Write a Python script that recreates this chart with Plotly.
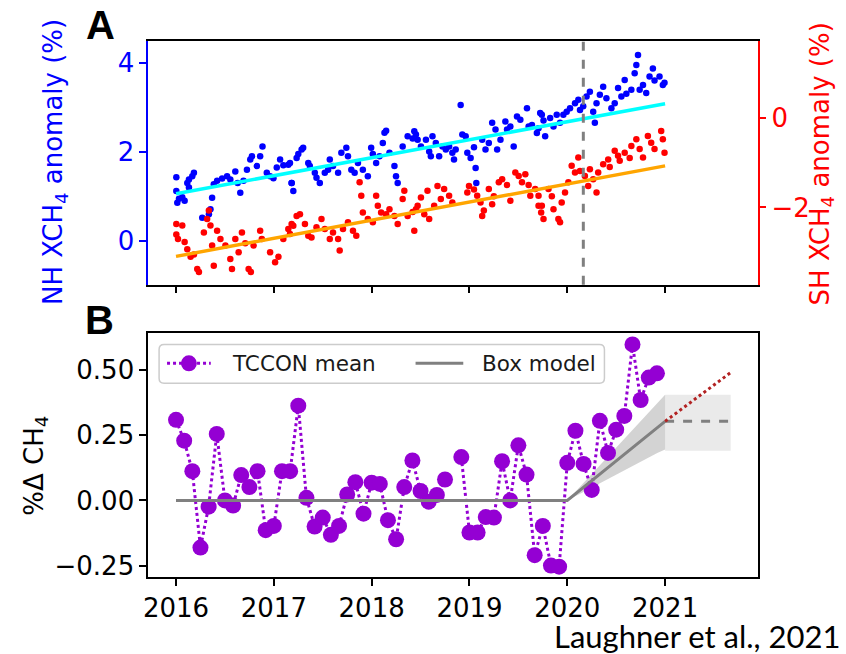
import plotly.graph_objects as go

# ---------------- Panel A data (decimal year, anomaly %) ----------------
nh_time = [2016.003, 2016.003, 2016.013, 2016.03, 2016.064, 2016.088, 2016.115, 2016.132, 2016.132,
           2016.166, 2016.183, 2016.268, 2016.336, 2016.352, 2016.369, 2016.386, 2016.42, 2016.471,
           2016.522, 2016.555, 2016.606, 2016.63, 2016.657, 2016.69, 2016.725, 2016.759, 2016.776,
           2016.826, 2016.86, 2016.884, 2016.928, 2016.962, 2016.996, 2017.03, 2017.064, 2017.097,
           2017.148, 2017.182,
           2017.165, 2017.182, 2017.199, 2017.233, 2017.25, 2017.284, 2017.3, 2017.352, 2017.368,
           2017.419, 2017.436, 2017.47, 2017.521, 2017.555, 2017.572, 2017.605, 2017.657, 2017.69,
           2017.741, 2017.758, 2017.792, 2017.826, 2017.86, 2017.91, 2017.961, 2017.995, 2018.012,
           2018.046, 2018.08, 2018.114, 2018.131, 2018.148, 2018.182, 2018.233, 2018.249, 2018.266,
           2018.317, 2018.368, 2018.419, 2018.453,
           2018.436, 2018.47, 2018.504, 2018.555, 2018.588, 2018.605, 2018.622, 2018.656, 2018.69,
           2018.724, 2018.758, 2018.792, 2018.825, 2018.842, 2018.859, 2018.91, 2018.927, 2018.961,
           2018.978, 2019.012, 2019.046, 2019.063, 2019.07, 2019.13, 2019.164, 2019.198, 2019.232,
           2019.266, 2019.283, 2019.317, 2019.367, 2019.384, 2019.418, 2019.452, 2019.486, 2019.52,
           2019.588, 2019.605, 2019.639, 2019.689, 2019.723,
           2019.706, 2019.74, 2019.757, 2019.774, 2019.825, 2019.859, 2019.892, 2019.926, 2019.96,
           2019.994, 2020.028, 2020.079, 2020.113, 2020.13, 2020.163, 2020.197, 2020.231, 2020.265,
           2020.282, 2020.299, 2020.333, 2020.367, 2020.4, 2020.451, 2020.485, 2020.519, 2020.553,
           2020.587, 2020.604, 2020.655, 2020.689, 2020.706, 2020.723, 2020.74, 2020.774, 2020.807,
           2020.841, 2020.875, 2020.892, 2020.943, 2020.977, 2020.994]
nh_anom = [1.43, 1.12, 0.86, 0.95, 0.98, 0.90, 1.30, 1.38, 1.20,
           1.45, 1.53, 0.52, 0.60, 0.71, 0.97, 1.27, 1.35, 1.40,
           1.45, 1.38, 1.56, 1.30, 1.08, 1.35, 1.60, 1.83, 1.90,
           1.68, 1.90, 2.12, 1.53, 1.45, 1.41, 1.65, 1.83, 1.70,
           1.71, 1.30,
           1.75, 1.30, 1.12, 1.86, 1.95, 2.05, 2.09, 1.75, 1.68,
           1.53, 1.42, 1.30, 1.53, 1.60, 1.83, 1.68, 1.53, 1.98,
           2.09, 1.90, 1.60, 1.53, 1.75, 1.60, 1.45, 2.09, 1.95,
           1.75, 1.90, 2.20, 2.43, 2.47, 1.98, 1.68, 1.45, 1.30,
           2.12, 2.35, 2.30, 2.39,
           2.46, 2.27, 2.12, 2.27, 2.01, 1.90, 2.35, 2.20, 1.90,
           2.12, 2.05, 2.12, 1.98, 1.83, 2.05, 3.05, 2.39, 2.35,
           1.98, 1.86, 2.10, 1.64, 1.30, 2.27, 2.05, 2.20, 2.65,
           2.50, 2.05, 2.27, 2.68, 2.50, 2.57, 2.12, 2.79, 2.72,
           2.98, 2.57, 2.60, 2.42, 2.87,
           2.53, 2.83, 2.70, 2.35, 2.76, 2.57, 2.83, 2.65, 2.83,
           2.90, 2.98, 3.09, 3.17, 2.94, 3.02, 3.24, 3.35, 2.90,
           2.65, 3.09, 3.28, 3.46, 3.20, 2.98, 3.09, 3.43, 3.24,
           3.61, 3.30, 3.39, 3.76, 3.95, 4.17, 3.39, 3.50, 3.32,
           3.69, 3.87, 3.60, 3.69, 3.50, 3.55]

sh_time = [2016.003, 2016.003, 2016.02, 2016.064, 2016.088, 2016.115, 2016.149, 2016.183, 2016.217,
           2016.234, 2016.285, 2016.318, 2016.336, 2016.352, 2016.369, 2016.386, 2016.42, 2016.454,
           2016.505, 2016.555, 2016.572, 2016.606, 2016.64, 2016.674, 2016.708, 2016.742, 2016.765,
           2016.793, 2016.86, 2016.877, 2016.962, 2017.013, 2017.047, 2017.097, 2017.148, 2017.182,
           2017.165, 2017.199, 2017.233, 2017.267, 2017.318, 2017.352, 2017.385, 2017.436, 2017.487,
           2017.521, 2017.572, 2017.605, 2017.657, 2017.673, 2017.707, 2017.758, 2017.809, 2017.843,
           2017.877, 2017.894, 2017.91, 2017.961, 2018.012, 2018.046, 2018.063, 2018.097, 2018.148,
           2018.182, 2018.233, 2018.266, 2018.317, 2018.334, 2018.368, 2018.419, 2018.453,
           2018.436, 2018.47, 2018.504, 2018.538, 2018.571, 2018.588, 2018.639, 2018.673, 2018.707,
           2018.741, 2018.792, 2018.825, 2018.978, 2018.995, 2019.046, 2019.079, 2019.113, 2019.13,
           2019.147, 2019.198, 2019.232, 2019.249, 2019.3, 2019.334, 2019.384, 2019.418, 2019.469,
           2019.503, 2019.537, 2019.571, 2019.605, 2019.622, 2019.672, 2019.706, 2019.733,
           2019.706, 2019.74, 2019.757, 2019.808, 2019.842, 2019.859, 2019.909, 2019.926, 2019.943,
           2019.977, 2020.011, 2020.045, 2020.079, 2020.113, 2020.13, 2020.18, 2020.214, 2020.231,
           2020.265, 2020.299, 2020.316, 2020.367, 2020.418, 2020.434, 2020.485, 2020.519, 2020.536,
           2020.587, 2020.638, 2020.655, 2020.706, 2020.74, 2020.774, 2020.824, 2020.858, 2020.892,
           2020.96, 2020.977, 2020.994]
sh_anom = [-2.37, -2.60, -2.70, -2.40, -2.77, -2.93, -3.10, -3.05, -3.37,
           -3.44, -2.56, -2.26, -2.07, -2.40, -2.85, -3.30, -2.52, -2.70,
           -2.85, -3.15, -3.37, -2.70, -3.00, -2.56, -2.80, -3.37, -3.44,
           -2.85, -2.52, -2.70, -3.00, -3.22, -3.10, -2.70, -2.48, -2.37,
           -2.59, -2.41, -2.19, -2.15, -2.37, -2.63, -2.67, -2.44, -2.26,
           -2.48, -2.70, -2.56, -2.70, -2.96, -2.48, -2.33, -2.52, -2.63,
           -1.44, -1.74, -2.11, -2.26, -2.33, -1.74, -1.96, -2.11, -2.15,
           -2.04, -2.19, -2.37, -1.81, -1.63, -2.19, -2.10, -2.04,
           -2.52, -1.96, -1.78, -2.15, -1.63, -2.26, -1.96, -1.52, -1.81,
           -1.59, -1.74, -1.89, -1.67, -1.52, -1.60, -1.74, -1.89, -2.19,
           -2.07, -1.59, -1.93, -1.75, -1.44, -1.37, -1.50, -1.85, -1.22,
           -1.30, -1.44, -1.26, -1.50, -1.74, -1.59, -1.96, -2.11,
           -1.74, -1.96, -2.26, -1.59, -1.75, -2.04, -2.26, -2.33, -1.89,
           -1.67, -1.44, -1.07, -1.22, -0.89, -1.19, -1.30, -1.52, -1.15,
           -1.37, -1.67, -1.22, -1.04, -0.93, -1.10, -0.74, -0.85, -0.96,
           -0.78, -0.90, -0.63, -0.48, -0.70, -0.89, -0.41, -0.56, -0.70,
           -0.30, -0.48, -0.78]

nh_trend_time = [2016.0, 2021.0]
nh_trend = [1.06, 3.08]
sh_trend_time = [2016.0, 2021.0]
sh_trend = [-3.09, -1.075]
covid_start = 2020.164

# ---------------- Panel B data ----------------
tccon_month = list(range(60))  # months since Jan 2016
tccon_mean = [0.309, 0.229, 0.112, -0.181, -0.024, 0.255, 0.000, -0.020, 0.097, 0.051, 0.112, -0.114,
              -0.098, 0.112, 0.112, 0.363, 0.010, -0.100, -0.066, -0.132, -0.098, 0.023, 0.070, -0.051,
              0.068, 0.063, -0.076, -0.149, 0.051, 0.153, 0.036, -0.005, 0.021, 0.080, None, 0.166,
              -0.123, -0.123, -0.064, -0.066, 0.150, 0.000, 0.211, 0.099, -0.210, -0.098, -0.250, -0.254,
              0.144, 0.267, 0.140, 0.040, 0.305, 0.182, 0.271, 0.324, 0.598, 0.385, 0.471, 0.487]

box_time = [2016.0, 2020.0, 2021.0]
box_model = [0.0, 0.0, 0.303]
box_unc_time = [2020.0, 2021.0, 2021.0, 2020.92, 2020.0]
box_unc = [0.0, 0.405, 0.195, 0.182, 0.0]
proj_time = [2021.0, 2021.67]
proj_flat = [0.303, 0.303]
proj_growth = [0.303, 0.49]
proj_band_lo = [0.19, 0.19]
proj_band_hi = [0.405, 0.405]

legend_labels = ["TCCON mean", "Box model"]

# ---------------- Layout geometry (pixels -> paper) ----------------
W, H = 846, 654
def px(x):
    return x / W
def py(y):
    return 1 - y / H

FONT = "DejaVu Sans"
TICK = 26
PURPLE = "#9400d3"
GRAY = "#808080"

fig = go.Figure()

# Panel A
fig.add_trace(go.Scatter(x=nh_time, y=nh_anom, mode="markers",
                         marker=dict(color="#0000ff", size=6.5), xaxis="x", yaxis="y",
                         showlegend=False))
fig.add_trace(go.Scatter(x=nh_trend_time, y=nh_trend, mode="lines",
                         line=dict(color="#00ffff", width=3.5), xaxis="x", yaxis="y",
                         showlegend=False))
fig.add_trace(go.Scatter(x=sh_time, y=sh_anom, mode="markers",
                         marker=dict(color="#ff0000", size=6.5), xaxis="x", yaxis="y2",
                         showlegend=False))
fig.add_trace(go.Scatter(x=sh_trend_time, y=sh_trend, mode="lines",
                         line=dict(color="#ffa500", width=3.5), xaxis="x", yaxis="y2",
                         showlegend=False))

# Panel B
fig.add_trace(go.Scatter(x=box_unc_time, y=box_unc, fill="toself", mode="lines",
                         line=dict(width=0), fillcolor="rgba(128,128,128,0.35)",
                         xaxis="x2", yaxis="y3", showlegend=False, hoverinfo="skip"))
fig.add_trace(go.Scatter(x=[proj_time[0], proj_time[1], proj_time[1], proj_time[0], proj_time[0]],
                         y=[proj_band_lo[0], proj_band_lo[1], proj_band_hi[1], proj_band_hi[0], proj_band_lo[0]],
                         fill="toself", mode="lines", line=dict(width=0),
                         fillcolor="rgba(128,128,128,0.17)",
                         xaxis="x2", yaxis="y3", showlegend=False, hoverinfo="skip"))
fig.add_trace(go.Scatter(x=[2016 + m / 12 for m in tccon_month], y=tccon_mean,
                         mode="lines+markers", name=legend_labels[0],
                         line=dict(color=PURPLE, width=3, dash="dot"),
                         marker=dict(color=PURPLE, size=16),
                         connectgaps=False, xaxis="x2", yaxis="y3", showlegend=False))
fig.add_trace(go.Scatter(x=box_time, y=box_model, mode="lines", name=legend_labels[1],
                         line=dict(color=GRAY, width=3), xaxis="x2", yaxis="y3", showlegend=False))
fig.add_trace(go.Scatter(x=proj_time, y=proj_flat, mode="lines",
                         line=dict(color=GRAY, width=3, dash="dash"),
                         xaxis="x2", yaxis="y3", showlegend=False))
fig.add_trace(go.Scatter(x=proj_time, y=proj_growth, mode="lines",
                         line=dict(color="#b22222", width=3, dash="dot"),
                         xaxis="x2", yaxis="y3", showlegend=False))

XR = [2015.715, 2021.945]
common_x = dict(range=XR, tickvals=[2016, 2017, 2018, 2019, 2020, 2021],
                ticks="outside", ticklen=7, tickwidth=1.5, tickcolor="black",
                showline=True, linecolor="black", linewidth=1.5, mirror=True,
                showgrid=False, zeroline=False)

# ---- matplotlib-style legend box drawn with shapes (rounded rectangle) ----
def rounded_rect(x0, y0, x1, y1, r):
    X0, X1 = px(x0), px(x1)
    Y0, Y1 = py(y0), py(y1)
    rx, ry = r / W, r / H
    return (f"M {X0+rx},{Y0} L {X1-rx},{Y0} Q {X1},{Y0} {X1},{Y0-ry} "
            f"L {X1},{Y1+ry} Q {X1},{Y1} {X1-rx},{Y1} "
            f"L {X0+rx},{Y1} Q {X0},{Y1} {X0},{Y1+ry} "
            f"L {X0},{Y0-ry} Q {X0},{Y0} {X0+rx},{Y0} Z")

LEG_Y = 365
shapes = [
    dict(type="line", xref="x", yref="y domain", x0=covid_start, x1=covid_start,
         y0=0, y1=1, line=dict(color=GRAY, width=3, dash="dash")),
    dict(type="path", xref="paper", yref="paper", path=rounded_rect(155, 346, 603, 385, 5),
         fillcolor="rgba(255,255,255,0.85)", line=dict(color="#cccccc", width=1.5), layer="above"),
    dict(type="line", xref="paper", yref="paper", x0=px(163), x1=px(207), y0=py(LEG_Y), y1=py(LEG_Y),
         line=dict(color=PURPLE, width=3, dash="dot"), layer="above"),
    dict(type="circle", xref="paper", yref="paper", x0=px(177), x1=px(193),
         y0=py(LEG_Y + 8), y1=py(LEG_Y - 8), fillcolor=PURPLE, line=dict(color=PURPLE, width=0),
         layer="above"),
    dict(type="line", xref="paper", yref="paper", x0=px(413), x1=px(461), y0=py(LEG_Y), y1=py(LEG_Y),
         line=dict(color=GRAY, width=3), layer="above"),
]

def ann(text, x, y, size, color="black", family=FONT, angle=0, xanchor="center"):
    return dict(text=text, x=px(x), y=py(y), xref="paper", yref="paper", showarrow=False,
                xanchor=xanchor, yanchor="middle", textangle=angle,
                font=dict(family=family, size=size, color=color))

annotations = [
    ann("<b>A</b>", 96, 25, 40, family="Liberation Sans"),
    ann("<b>B</b>", 95, 321, 40, family="Liberation Sans"),
    ann("NH XCH<sub>4</sub> anomaly (%)", 50, 163, TICK, color="#0000ff", angle=-90),
    ann("SH XCH<sub>4</sub> anomaly (%)", 821, 165, TICK, color="#ff0000", angle=-90),
    ann("%\u0394 CH<sub>4</sub>", 31, 468, TICK, angle=-90),
    ann(legend_labels[0], 226, LEG_Y, 21.5, color="#1a1a1a", xanchor="left"),
    ann(legend_labels[1], 478, LEG_Y, 21.5, color="#1a1a1a", xanchor="left"),
    ann("Laughner et al., 2021", 843, 639, 31, family="Lato", xanchor="right"),
]

fig.update_layout(
    width=W, height=H, margin=dict(l=0, r=0, t=0, b=0),
    paper_bgcolor="white", plot_bgcolor="white",
    font=dict(family=FONT, size=TICK, color="black"),
    showlegend=False,
    xaxis=dict(**common_x, domain=[px(144), px(757)], anchor="y", showticklabels=False),
    yaxis=dict(domain=[py(286), py(41)], anchor="x", range=[-0.98, 4.49],
               tickvals=[0, 2, 4], ticktext=["0", "2", "4"],
               ticks="outside", ticklen=7, tickwidth=1.5, tickcolor="#0000ff",
               tickfont=dict(color="#0000ff", size=TICK, family=FONT),
               showline=True, linecolor="#0000ff", linewidth=1.5,
               showgrid=False, zeroline=False),
    yaxis2=dict(overlaying="y", side="right", anchor="x", range=[-3.72, 1.71],
                tickvals=[-2, 0], ticktext=["\u22122", "0"],
                ticks="outside", ticklen=7, tickwidth=1.5, tickcolor="#ff0000",
                tickfont=dict(color="#ff0000", size=TICK, family=FONT),
                showline=True, linecolor="#ff0000", linewidth=1.5,
                showgrid=False, zeroline=False),
    xaxis2=dict(**common_x, domain=[px(144), px(757)], anchor="y3",
                tickfont=dict(size=TICK, family=FONT, color="black")),
    yaxis3=dict(domain=[py(580), py(335)], anchor="x2", range=[-0.295, 0.640],
                tickvals=[-0.25, 0, 0.25, 0.5], tickformat=".2f",
                ticks="outside", ticklen=7, tickwidth=1.5, tickcolor="black",
                showline=True, linecolor="black", linewidth=1.5, mirror=True,
                showgrid=False, zeroline=False,
                tickfont=dict(size=TICK, family=FONT, color="black")),
    shapes=shapes,
    annotations=annotations,
)

fig.write_html("out.html")
